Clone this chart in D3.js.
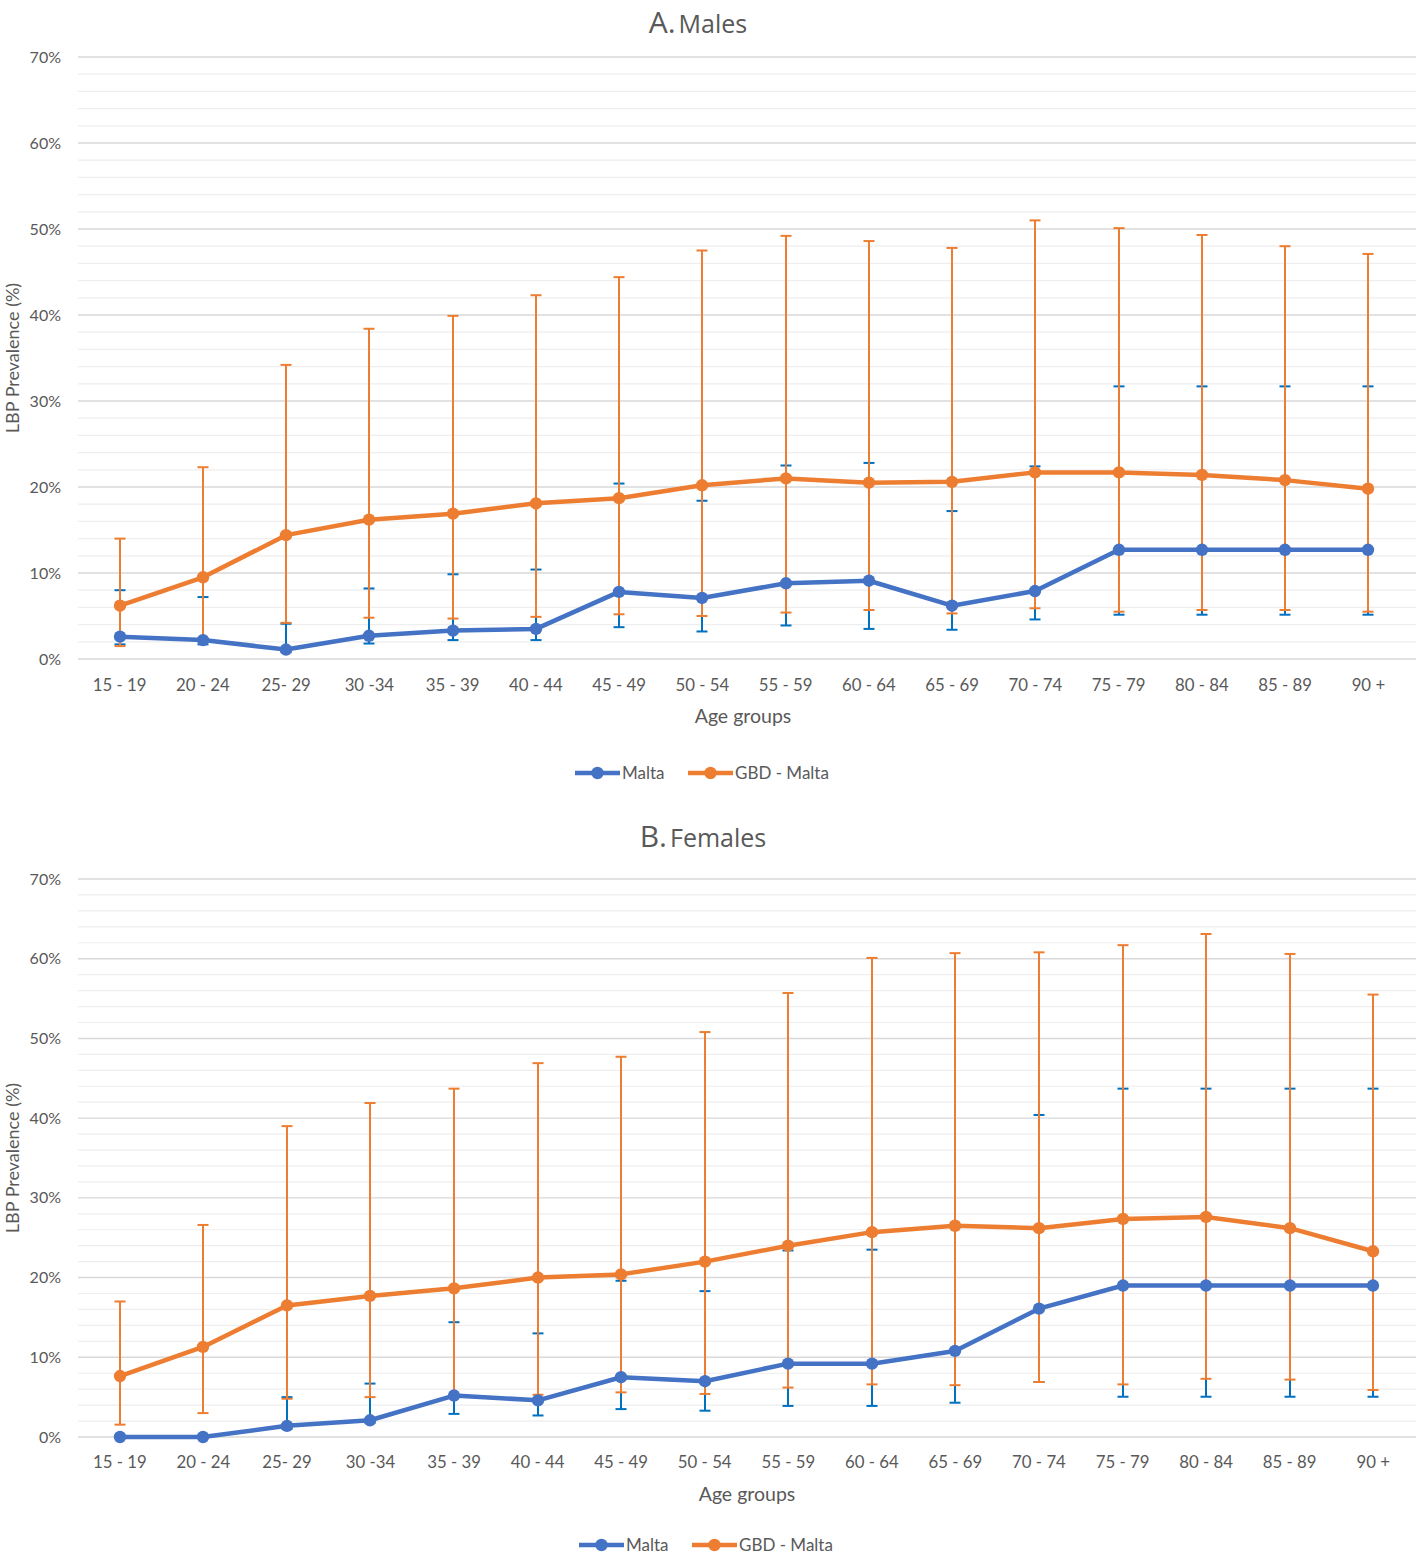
<!DOCTYPE html>
<html>
<head>
<meta charset="utf-8">
<script src="https://cdn.jsdelivr.net/npm/d3@7"></script>
<style>
  html, body { margin: 0; padding: 0; background: #fff; }
  svg { display: block; }
  text { font-family: Lato, "Open Sans", sans-serif; fill: #595959; }
</style>
</head>
<body>
<svg id="chart" width="1416" height="1557"></svg>
<script>
// ---------- DATA ----------
const ageGroups = ["15 - 19","20 - 24","25- 29","30 -34","35 - 39","40 - 44","45 - 49","50 - 54","55 - 59","60 - 64","65 - 69","70 - 74","75 - 79","80 - 84","85 - 89","90 +"];
const yTicks = [0, 10, 20, 30, 40, 50, 60, 70];
const seriesNames = ["Malta", "GBD - Malta"];

// Panel A: Males
const maleMalta      = [2.6, 2.2, 1.1, 2.7, 3.3, 3.5, 7.8, 7.1, 8.8, 9.1, 6.2, 7.9, 12.7, 12.7, 12.7, 12.7];
const maleMaltaHigh  = [8.0, 7.2, 4.1, 8.2, 9.85, 10.4, 20.4, 18.4, 22.5, 22.8, 17.2, 22.4, 31.7, 31.7, 31.7, 31.7];
const maleMaltaLow   = [1.7, 1.7, 0.8, 1.8, 2.2, 2.2, 3.7, 3.2, 3.9, 3.5, 3.4, 4.6, 5.15, 5.15, 5.15, 5.15];
const maleGBD        = [6.2, 9.5, 14.4, 16.2, 16.9, 18.1, 18.7, 20.2, 21.0, 20.5, 20.6, 21.7, 21.7, 21.4, 20.8, 19.8];
const maleGBDHigh    = [14.0, 22.3, 34.2, 38.4, 39.9, 42.3, 44.4, 47.5, 49.2, 48.6, 47.8, 51.0, 50.1, 49.3, 48.0, 47.1];
const maleGBDLow     = [1.5, 2.3, 4.2, 4.8, 4.7, 4.9, 5.2, 5.0, 5.4, 5.7, 5.3, 5.9, 5.5, 5.7, 5.7, 5.5];

// Panel B: Females
const femaleMalta     = [0.0, 0.0, 1.4, 2.1, 5.2, 4.6, 7.5, 7.0, 9.2, 9.2, 10.8, 16.1, 19.0, 19.0, 19.0, 19.0];
const femaleMaltaHigh = [0.0, 0.0, 5.0, 6.7, 14.4, 13.0, 19.6, 18.3, 23.4, 23.5, 26.3, 40.4, 43.7, 43.7, 43.7, 43.7];
const femaleMaltaLow  = [0.0, 0.0, 1.0, 1.8, 2.9, 2.7, 3.5, 3.3, 3.9, 3.9, 4.3, 6.9, 5.05, 5.05, 5.05, 5.05];
const femaleGBD       = [7.65, 11.3, 16.5, 17.7, 18.65, 20.0, 20.4, 22.0, 24.0, 25.7, 26.5, 26.2, 27.35, 27.6, 26.2, 23.3];
const femaleGBDHigh   = [17.0, 26.6, 39.0, 41.9, 43.7, 46.9, 47.7, 50.8, 55.7, 60.1, 60.7, 60.8, 61.7, 63.1, 60.6, 55.5];
const femaleGBDLow    = [1.55, 3.0, 4.8, 5.0, 5.2, 5.3, 5.6, 5.4, 6.2, 6.6, 6.5, 6.9, 6.6, 7.3, 7.2, 5.9];

// ---------- STYLE ----------
const C_MALTA = "#4472C4", C_MALTA_ERR = "#0070C0";
const C_GBD = "#ED7D31";

const svg = d3.select("#chart");

function drawPanel(p) {
  const g = svg.append("g");
  const x = d3.scaleBand().domain(ageGroups).range([p.left, p.right]);
  const y = d3.scaleLinear().domain([0, 70]).range([p.bottom, p.top]);
  const cx = d => Math.round(x(d) + x.bandwidth() / 2);

  // minor gridlines every 2%
  const minor = d3.range(0, 71, 2).filter(v => v % 10 !== 0);
  g.selectAll(".minor").data(minor).join("line")
    .attr("x1", p.left).attr("x2", 1416)
    .attr("y1", d => y(d)).attr("y2", d => y(d))
    .attr("stroke", "#eeeeee").attr("stroke-width", 1.2);
  // major gridlines
  g.selectAll(".major").data(yTicks).join("line")
    .attr("x1", p.left).attr("x2", 1416)
    .attr("y1", d => y(d)).attr("y2", d => y(d))
    .attr("stroke", "#d9d9d9").attr("stroke-width", 1.4);

  // y axis labels
  const yAxis = d3.axisLeft(y).tickValues(yTicks).tickFormat(d => d + "%").tickSize(0).tickPadding(0);
  const ya = g.append("g").attr("transform", `translate(${p.left - 17},0)`).call(yAxis);
  ya.select(".domain").remove();
  ya.selectAll("text").attr("font-size", 16).attr("fill", "#595959")
    .style("font-family", "Lato, sans-serif");

  // x axis labels
  const xAxis = d3.axisBottom(x).tickSize(0).tickPadding(0);
  const xa = g.append("g").attr("transform", `translate(0,${p.xLabelY})`).call(xAxis);
  xa.select(".domain").remove();
  xa.selectAll("text").attr("font-size", 16.8).attr("fill", "#595959").attr("dy", "0.35em")
    .style("font-family", "Lato, sans-serif");

  // error bars
  function errBars(vals, hi, lo, color, w, cap) {
    const eg = g.append("g");
    ageGroups.forEach((a, i) => {
      if (hi[i] === lo[i]) return;
      eg.append("line").attr("x1", cx(a)).attr("x2", cx(a))
        .attr("y1", y(hi[i])).attr("y2", y(lo[i]))
        .attr("stroke", color).attr("stroke-width", w);
      [hi[i], lo[i]].forEach(v => {
        eg.append("line").attr("x1", cx(a) - cap / 2).attr("x2", cx(a) + cap / 2)
          .attr("y1", y(v)).attr("y2", y(v))
          .attr("stroke", color).attr("stroke-width", 2);
      });
    });
  }
  errBars(p.malta, p.maltaHi, p.maltaLo, C_MALTA_ERR, 2, 11);
  errBars(p.gbd, p.gbdHi, p.gbdLo, C_GBD, 2, 11);

  // lines + markers
  function series(vals, color) {
    const line = d3.line().x((d, i) => cx(ageGroups[i])).y(d => y(d));
    g.append("path").datum(vals).attr("d", line)
      .attr("fill", "none").attr("stroke", color).attr("stroke-width", 4.5)
      .attr("stroke-linejoin", "round");
    g.append("g").selectAll("circle").data(vals).join("circle")
      .attr("cx", (d, i) => cx(ageGroups[i])).attr("cy", d => y(d)).attr("r", 6.2)
      .attr("fill", color);
  }
  series(p.malta, C_MALTA);
  series(p.gbd, C_GBD);

  // title
  const t = g.append("text").attr("x", p.titleX).attr("y", p.titleY).attr("text-anchor", "middle");
  t.append("tspan").text(p.titleLetter).attr("font-size", 30).style("font-family", "'Open Sans', sans-serif");
  t.append("tspan").text(p.titleWord).attr("font-size", 25).attr("dx", 3).style("font-family", "'Open Sans', sans-serif");

  // y axis title
  g.append("text").attr("transform", `translate(${p.yTitleX},${p.yTitleY}) rotate(-90)`)
    .attr("text-anchor", "middle").attr("font-size", 18).text("LBP Prevalence (%)");

  // x axis title
  g.append("text").attr("x", p.xTitleX).attr("y", p.xTitleY).attr("text-anchor", "middle")
    .attr("font-size", 19.5).text("Age groups");

  // legend
  const colors = [C_MALTA, C_GBD];
  p.legendX.forEach((lx, i) => {
    const lg = g.append("g").attr("transform", `translate(${lx},${p.legendY})`);
    lg.append("line").attr("x1", 0).attr("x2", 45).attr("y1", 0).attr("y2", 0)
      .attr("stroke", colors[i]).attr("stroke-width", 4.5);
    lg.append("circle").attr("cx", 22.5).attr("cy", 0).attr("r", 6.2).attr("fill", colors[i]);
    lg.append("text").attr("x", 47).attr("y", 0).attr("dy", "0.35em").attr("font-size", 17)
      .text(seriesNames[i]);
  });
}

drawPanel({
  left: 78, right: 1410, top: 57, bottom: 659, xLabelY: 685,
  malta: maleMalta, maltaHi: maleMaltaHigh, maltaLo: maleMaltaLow,
  gbd: maleGBD, gbdHi: maleGBDHigh, gbdLo: maleGBDLow,
  titleLetter: "A.", titleWord: "Males", titleX: 698, titleY: 33,
  yTitleX: 19, yTitleY: 358, xTitleX: 743, xTitleY: 723,
  legendX: [575, 688], legendY: 773
});

drawPanel({
  left: 78, right: 1415, top: 879, bottom: 1437, xLabelY: 1462,
  malta: femaleMalta, maltaHi: femaleMaltaHigh, maltaLo: femaleMaltaLow,
  gbd: femaleGBD, gbdHi: femaleGBDHigh, gbdLo: femaleGBDLow,
  titleLetter: "B.", titleWord: "Females", titleX: 703, titleY: 847,
  yTitleX: 19, yTitleY: 1158, xTitleX: 747, xTitleY: 1501,
  legendX: [579, 692], legendY: 1545
});
</script>
</body>
</html>
